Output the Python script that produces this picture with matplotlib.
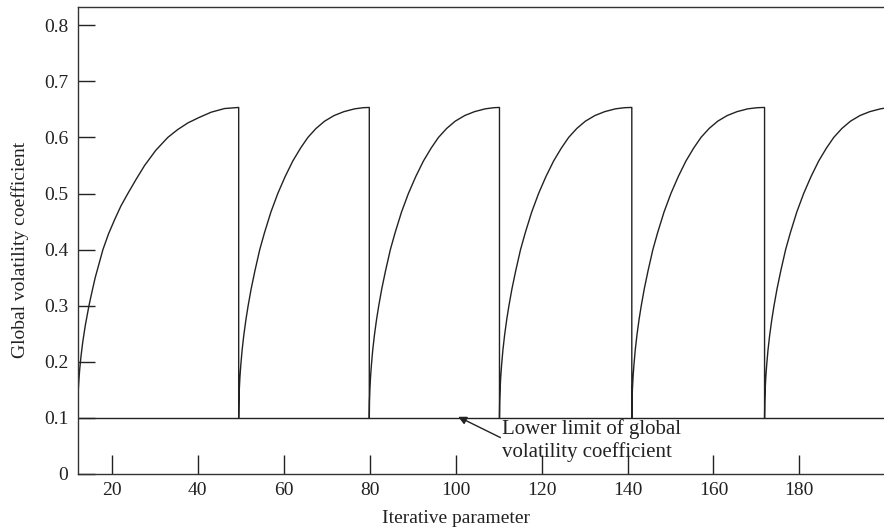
import matplotlib
matplotlib.use("Agg")
import matplotlib.pyplot as plt

plt.rcParams['font.family'] = ['Liberation Serif', 'DejaVu Serif']

# values, one list per rising segment
seg1_x = [12.0, 12.05, 12.15, 12.3, 12.5, 12.8, 13.2, 13.8, 14.65, 15.3, 16.1, 17.0, 17.9, 19.2,
          20.6, 22.1, 23.7, 25.6, 27.6, 30.2, 33.0, 35.3, 37.7, 40.4, 43.1, 46.2, 49.5]
seg1_y = [0.100, 0.128, 0.148, 0.167, 0.187, 0.210, 0.235, 0.265, 0.300, 0.323, 0.350, 0.375, 0.400,
          0.428, 0.453, 0.478, 0.500, 0.525, 0.550, 0.577, 0.600, 0.614, 0.626, 0.636, 0.645, 0.6515, 0.6535]

seg2_x = [49.5, 49.55, 49.65, 49.8, 50.0, 50.3, 50.7, 51.2, 51.7, 52.4, 53.3, 54.4, 55.5, 57.0,
          58.6, 60.3, 62.1, 63.9, 65.6, 67.5, 69.5, 71.7, 74.0, 76.5, 78.5, 79.9]
seg3_x = [79.9, 79.95, 80.05, 80.2, 80.4, 80.7, 81.1, 81.6, 82.1, 82.8, 83.7, 84.8, 85.9, 87.4,
          89.0, 90.7, 92.5, 94.3, 96.0, 97.9, 99.9, 102.1, 104.4, 106.9, 108.9, 110.2]
seg4_x = [110.2, 110.25, 110.35, 110.5, 110.7, 111.0, 111.4, 111.9, 112.4, 113.1, 114.0, 115.1, 116.2,
          117.7, 119.3, 121.0, 122.8, 124.6, 126.3, 128.2, 130.2, 132.4, 134.7, 137.2, 139.3, 141.0]
seg5_x = [141.0, 141.05, 141.15, 141.3, 141.5, 141.8, 142.2, 142.7, 143.2, 143.9, 144.8, 145.9, 147.0,
          148.5, 150.1, 151.8, 153.6, 155.4, 157.1, 159.0, 161.0, 163.2, 165.5, 168.0, 170.2, 171.9]
seg_y = [0.100, 0.130, 0.152, 0.174, 0.195, 0.221, 0.248, 0.276, 0.300, 0.330, 0.363, 0.400, 0.430,
         0.467, 0.500, 0.530, 0.558, 0.581, 0.600, 0.616, 0.629, 0.639, 0.646, 0.651, 0.653, 0.6535]

seg6_x = [171.9, 171.95, 172.05, 172.2, 172.4, 172.7, 173.1, 173.6, 174.1, 174.8, 175.7, 176.8, 177.9,
          179.4, 181.0, 182.7, 184.5, 186.3, 188.0, 189.9, 191.9, 194.1, 196.4, 198.9, 199.7]
seg6_y = [0.100, 0.130, 0.152, 0.174, 0.195, 0.221, 0.248, 0.276, 0.300, 0.330, 0.363, 0.400, 0.430,
          0.467, 0.500, 0.530, 0.558, 0.581, 0.600, 0.616, 0.629, 0.639, 0.646, 0.651, 0.652]

lower_limit = 0.1

x_ticks = [20, 40, 60, 80, 100, 120, 140, 160, 180]
y_ticks = [0, 0.1, 0.2, 0.3, 0.4, 0.5, 0.6, 0.7, 0.8]
y_labels = ['0', '0.1', '0.2', '0.3', '0.4', '0.5', '0.6', '0.7', '0.8']

xs = seg1_x + seg2_x + seg3_x + seg4_x + seg5_x + seg6_x
ys = seg1_y + seg_y + seg_y + seg_y + seg_y + seg6_y

ink = '#222222'
fig = plt.figure(figsize=(8.84, 5.31), dpi=100)
ax = fig.add_axes([78 / 884, 57 / 531, 806 / 884, 466.7 / 531])

ax.plot(xs, ys, color=ink, lw=1.0, solid_joinstyle='round')
ax.axhline(lower_limit, color=ink, lw=1.0)

ax.set_xlim(12.1, 199.7)
ax.set_ylim(0, 0.832)

ax.set_xticks(x_ticks)
ax.set_yticks(y_ticks)
ax.set_yticklabels(y_labels)
ax.tick_params(axis='x', direction='in', length=14, width=1.0, pad=6,
               labelsize=14, colors=ink)
ax.tick_params(axis='y', direction='in', length=12, width=1.0, pad=7,
               labelsize=14, colors=ink)

for side in ['left', 'bottom', 'top']:
    ax.spines[side].set_color('#333333')
    ax.spines[side].set_linewidth(1.0)
ax.spines['right'].set_visible(False)

ax.set_xlabel('Iterative parameter', fontsize=14, color=ink)
ax.xaxis.set_label_coords(0.469, -0.077)
ax.set_ylabel('Global volatility coefficient', fontsize=14, color=ink)
ax.yaxis.set_label_coords(-0.061, 0.48)

ax.annotate('', xy=(100.6, 0.102), xytext=(110.4, 0.065),
            arrowprops=dict(arrowstyle='-|>', color=ink, lw=1.0,
                            mutation_scale=12, shrinkA=0, shrinkB=0))
ax.text(110.7, 0.060, 'Lower limit of global\nvolatility coefficient',
        fontsize=15, color=ink, ha='left', va='center', linespacing=1.2)

fig.savefig('out.png', dpi=100)
